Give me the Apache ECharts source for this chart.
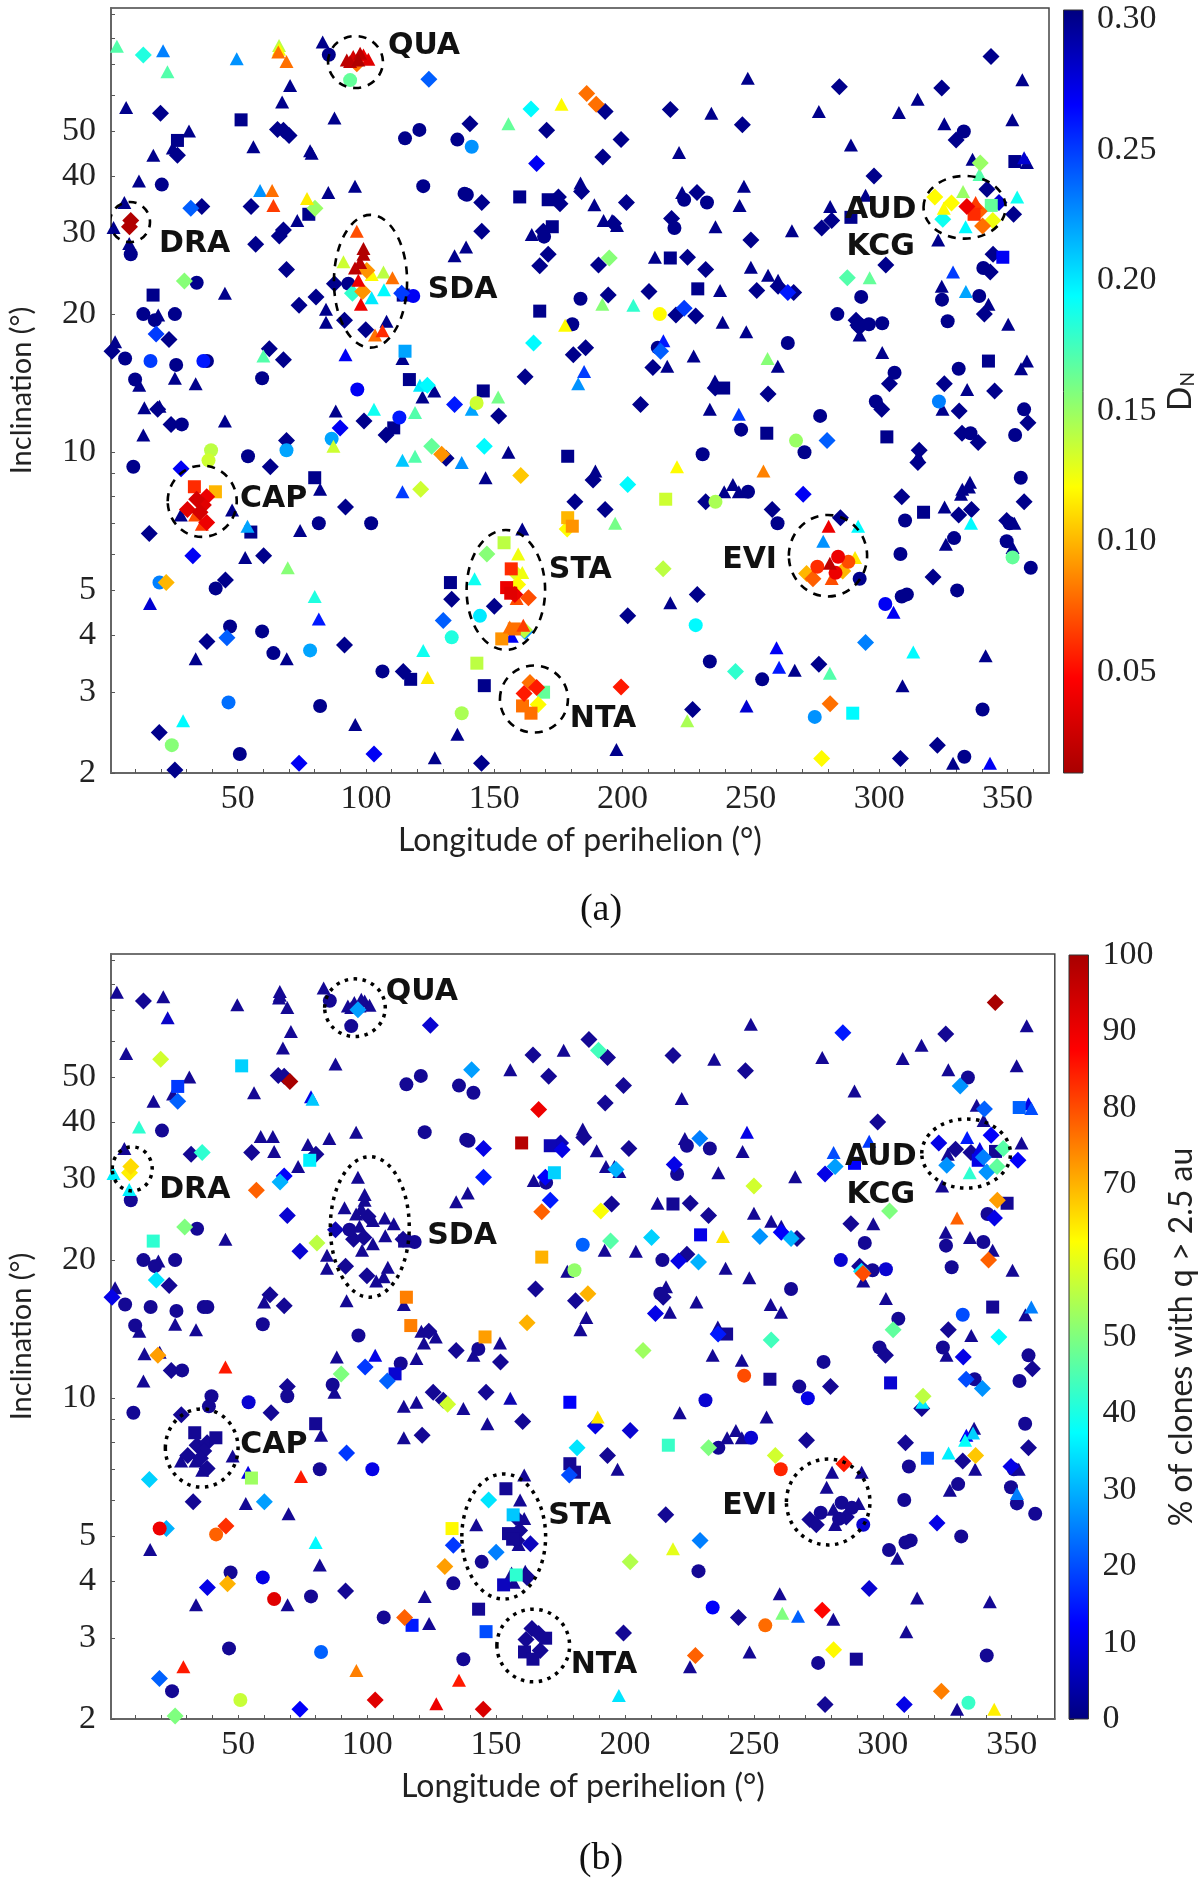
<!DOCTYPE html>
<html><head><meta charset="utf-8">
<style>html,body{margin:0;padding:0;background:#fff}#c{width:1200px;height:1880px}</style>
<script src="https://cdn.jsdelivr.net/npm/echarts@6/dist/echarts.min.js"></script>
</head><body><div id="c"></div>
<script>
// rows: [longitude, inclination, D_N (default .30), % clones (default 2)]
const triangles=[[2.9,76.7,.17],[20.9,75,.23],[22.6,67.5,.17,7],[49.6,72,.225],[66.1,77,.14],[66.1,75.5,.12],[65.8,74.5,.08],[69,71,.08],[70.4,63],[67.3,58],[83.1,78.3],[92.5,71.6,.02],[95,72.8,.03],[97,71.6,.015],[99,73.4,.04],[100.9,71.8,.035],[93.8,71,.02],[97.7,74,.02],[176.2,57.3,.12],[155.5,52,.165],[6.5,56.4],[31,50.1],[24.7,46],[17.1,44.4],[56.1,46.3],[87.7,53.5],[78.2,45.4,.3,10],[78.8,44.8,.3,32],[11.5,39,.3,42],[5.8,35],[1.6,30.9,.3,36],[7.7,28.5,.3,36],[58.7,37.2,.225],[63.4,37.2,.08],[63.9,34.5,.065],[77,35.7,.115],[73.2,32],[85.3,36.8],[95.7,38],[183.6,38.6],[164.6,29.8],[139,28],[134.5,26.8],[45,22.2],[84.4,20.5],[84.4,19.2],[96.4,30.3,.07],[99,27.8,.015],[99,27,.015],[97.7,25.9,.02],[95.7,25.2,.02],[91.2,26,.135],[102.2,24.4,.12],[106.8,24.7,.14],[110.3,24,.08],[97,23.7,.04],[107,22.6,.195],[102.2,21.7,.2],[98,21,.04],[108,19.3],[106.4,18.4,.06],[103.5,18,.08],[114.2,16],[92,16.3,.27],[19,19.9],[2.2,17.4],[60,16.2,.17],[11.6,14],[25.5,14.5],[33.6,14.1],[121,14,.2],[126.6,13.6],[122,13.2],[177.6,18.9,.12],[185,15,.25],[182.7,14.1,.225],[119.1,12.2,.17],[141.2,12.4,.22],[151.5,13.2,.16],
[355.8,64.8],[248.8,65.3],[315,58.8],[307.7,55],[276.5,55.3],[234.6,54.8],[222,45],[289,46.7],[325.4,52],[351.9,53],[356.5,43.8,.28,10],[357.6,42.8,.3,20],[336.4,43.5],[339.1,40.3,.17],[332.7,37,.15,15],[294.7,36.3,.3,18],[247.3,38,.3,10],[189,34.6],[223.2,36.8],[245.6,34.5],[280.9,34.3,.3,20],[266,30.4],[236.2,31],[192.6,32],[195.9,32],[197.8,31.2],[323,29],[325.2,34,.12],[337.6,35,.065,10],[353.8,36,.19],[333.7,31,.195,42],[212.6,26.6],[250,25.3],[256.7,24.3],[260.6,23.7],[296.3,24,.165],[328.8,24.7,.25,78],[324.4,23],[333.8,22.4,.22],[342.6,21],[350.3,19],[292.4,18],[301.2,16.5],[357.6,15.8,.3,25],[355.3,15.2],[334.3,13.7],[236,14.3],[248.2,18.3],[256.5,16,.155],[260.5,15.4],[239,19.2],[192.1,21,.155],[204.2,20.9,.18],[238,22.5,.3,65],[215.9,17.5,.26],[217.4,15.4],[227.7,16.2],
[234,12.4],[245.3,12.1,.25],[324.7,12.4],[221.2,9.3,.12],[254.9,9.1,.085],[189.4,9.1,.3,65],[197.1,7,.16],[239.6,8.2],[243,8.5],[245.3,8.2],[325.5,7.6,.3,36],[335.8,7,.195],[335.4,8.6],[332.4,8.3,.3,12],[335,8.4,.3,33],[331.9,8.1,.3,38],[352.7,7],[326,6.3],[352,6.2,.3,25],[280.3,6.9,.04],[291.8,6.9,.195],[278.2,6.4,.225],[280.8,5.73,.02],[290.6,5.9,.115],[281.5,5.31,.07],[305.6,4.48,.27],[218.6,4.7,.3,60],[313.3,3.67,.195],[341.5,3.6],[260,3.75,.27],[261,3.4,.26,50],[267.1,3.35,.3,22],[280.8,3.3,.17],[309.1,3.1],[225.2,2.6,.145],[248.3,2.8,.28],[197.6,2.25,.3,35],[328.8,2.1],[343.2,2.1,.27,64],[315.3,9.8,.3,35],
[13.6,12.5],[19.5,12.6],[13.2,10.9],[45,11.7,.3,85],[88.2,12.3],[103.1,12.4,.19,10],[87.3,10.3,.135],[119.1,9.8,.17],[114.2,9.6,.21],[137.3,9.5,.225],[155.5,10,.3,5],[146.6,8.8],[114.2,8.2,.25],[82.1,8.3],[160.9,6.8],[159.3,6,.125],[160.9,5.47,.125],[142.3,5.3,.19],[158.7,4.8,.07],[156,4.16,.08],[161.3,4.2,.065],[156.8,3.97,.27],[122.3,3.7,.19],[124,3.23,.115],[135.6,2.43,.3,85],[126.8,2.16,.3,90],[95.8,2.55,.3,75],[28.7,2.6,.195,85],[69.1,3.55],[33.6,3.55],[81.6,4.33,.26],[80,4.85,.185,37],[69.5,5.6,.155],[15.8,4.68,.28],[52.9,5.9],[74.3,6.75,.3,85],[53.8,6.9,.22,10],[27.8,7.3],[33.4,7.3,.07],[47.8,7.48],[36,6.97,.065]];
const diamonds=[[13.2,73.4,.185],[124.5,65,.24,8],[186,60.5,.08],[189.7,57.3,.08,44],[164.3,56,.195],[170.4,50.3],[140.5,52,.3,28],[166.5,42.6,.27,90],[19.9,54.8,.3,58],[26.5,44.4,.3,22],[65.5,50.5],[67.8,50.3],[70,49,.3,100],[8.3,32,.015,66],[7.8,31,.015,64],[80.1,34,.15],[31.7,34,.24],[36,34.3,.3,42],[55.2,34.3],[67.8,30.5,.3,12],[66.2,29.6,.3,30],[57,28.4,.3,78],[145.1,35,.3,10],[175,36,.3,5],[175.6,34.8,.3,10],[184,37],[169.1,30.3,.3,12],[171,27,.3,15],[167.7,25.5,.3,78],[145.1,30.3,.3,15],[69,25,.3,8],[29.2,23.6,.155,50],[73.9,20.9,.3,8],[80.5,21.8,.3,56],[100.3,24.9,.09],[87.7,23.3,.3,5],[94.7,22.2,.18],[98.7,22.4,.09],[113.9,22.2,.25],[91.6,19.4],[99.9,18.5],[18.2,18.1,.25,35],[23.2,17.6],[1,16.6,.3,10],[62.3,16.8],[67.8,15.9],[123.9,14,.195],[162,14.6,.3,70],[165.3,17.3,.195],[180.8,16.3],[185.6,16.9,.3,70],[96.4,70.2,.08,28],[134.5,12.7,.26],[151.7,12],
[343.6,72.8,.3,100],[284.5,62.6,.3,15],[324.4,62.2],[218.6,55.8],[246.7,51.7],[193.2,55.3],[199.4,48],[192.3,44],[330,47.9,.3,27],[339.4,42.7,.15,22],[342,37.4,.3,12],[298,40],[201.5,35],[229,36.8,.3,25],[281.5,32,.3,28],[277.6,30.8,.3,10],[219.1,32.3,.3,10],[196.5,31.5,.3,30],[250,29,.3,58],[344.4,27,.3,72],[321.7,36,.12,10],[328.2,34.9,.12],[334.2,34.3,.04],[339,33.5,.075,25],[346.7,35,.28,46],[352.4,33,.3,12],[324.8,32.2,.19,27],[340.3,31.1,.08,27],[344.3,32,.125,47],[225.3,26.6],[232.4,25],[190.6,25.6,.3,62],[194.8,26.5,.155],[260.6,23,.3,12],[264.4,22.3,.26,30],[266.7,22.3],[287.6,24,.17],[302.6,25.6,.3,50],[343.3,24.7,.3,10],[341,20,.3,78],[291,19.4],[291.7,18.9,.3,35],[292.3,18.7,.3,80],[304,14.1,.3,47],[325.4,14.1],[345,13.6,.3,37],[236.1,13.8,.3,15],[256.7,13.4,.3,44],[224,20.6,.25],[220.8,19.9,.3,10],[228.5,19.8,.3,30],[210.3,22.4,.3,33],[194.4,22,.3,46],[252.3,22.5,.3,27],[214.8,16.6,.24],[211.8,15.3,.3,10],
[207,12.7,.3,53],[301,12.4],[331.2,12.3,.3,10],[358,11.6],[332.3,11,.3,20],[338.6,10.5,.3,27],[279.7,10.6,.24],[315.6,10.1,.3,56],[315.1,9.5],[202,8.5,.195,8],[188.5,8.7,.3,10],[232.4,7.8,.3,50],[258.3,7.5,.3,58],[193.2,7.5],[270.4,8.1,.27],[308.8,8],[331,7.3],[336,7.5,.3,68],[356.5,7.8],[349.7,7.1,.3,10],[284.9,7.2,.3,85],[285.8,5.51,.1],[271.7,5.44,.1],[274.2,5.3,.075],[321,5.35,.3,10],[215.8,5.57,.14],[229.1,4.9,.3,25],[202,4.4,.3,55],[294.7,3.85,.23,8],[244,3.33,.18],[276.5,3.45,.3,87],[199.4,3.08,.055],[227.3,2.75,.3,78],[280.9,2.83,.08,63],[277.6,2.15,.12],[308.3,2.15,.3,10],[322.7,2.3,.3,75],
[18.8,12.4,.3,72],[24,11.5],[99.2,11.7,.3,18],[89.9,11.3,.27,50],[107.8,10.9,.3,22],[69,10.6],[27.9,9.2,.27],[62.7,9.3],[92,7.6,.3,18],[125.6,10.3,.165],[131.2,9.7,.3,58],[129.5,9.9,.09],[146.1,10.3,.195],[160.3,8.9,.105],[181.4,7.8,.3,35],[121.3,8.3,.135],[178.4,6.8,.12,20],[147.1,6,.155,35],[157.7,5.5,.13],[159.1,5.15,.12],[158,4.9,.04],[163.3,4.82,.07,6],[133.4,4.78,.3,18],[150,4.62,.3,25],[130.1,4.3,.24,72],[161.7,4.1,.14],[162,4.07,.225],[114.5,3.33,.3,78],[163.9,3.15,.08],[166.5,3.07,.055],[161.6,2.98,.055],[167.1,2.82,.12],[145,2.1,.3,93],[103.1,2.2,.27,92],[73.9,2.1,.27,12],[25.5,2.03,.3,50],[19.4,2.45,.3,22],[91.6,3.8],[45.8,3.94,.24,70],[38,3.87,.3,10],[22.1,5.2,.1,30],[45.2,5.27,.3,83],[60.1,5.95,.3,28],[15.5,6.65,.3,33],[32.5,5.95,.27],[34,7.9,.03],[37.9,8,.04],[36.6,7.67,.035],[30.4,7.5,.035],[35.3,7.4,.03],[37.9,7.03,.04]];
const circles=[[93.8,64.7,.165],[85.5,73.5],[120.8,50.4],[115.2,48.3],[135.6,48],[141.2,46.3,.225],[20.4,38.3],[122.3,38],[139.3,36.4],[138.4,36.6],[8.3,27],[34,23.4],[93.1,23.3],[118.4,21.9,.27],[13.2,20],[17.7,19.4],[25.5,20],[183.6,21.6,.3,22],[180.4,19,.3,52],[6.1,16],[16,15.8,.25],[26,15.5],[36.6,15.8,.26],[38,15.8],[59.5,14.5],[10,14.4],[96.6,13.7,.27],[169.4,29.5],
[333,50],[224,35.5],[232.9,35],[220.2,30.8],[340.6,25.2],[339,21.9],[324.5,21.5],[293,21.8],[326.7,19.3],[283.7,20,.3,8],[292.2,19],[296,19],[301.2,19.1,.3,8],[306,14.9],[331,15.2,.3,20],[264.4,17.3],[214.5,20,.12],[213.7,16.9],
[246.2,11.2,.3,80],[277,12],[298.7,12.9],[323.3,12.9,.23],[356.5,12.4],[353,10.9],[335.6,11],[267.6,10.6,.15],[270.9,10,.3,10],[231.2,9.9,.3,8],[236.2,7.8,.145],[248.9,8.2,.3,8],[260.4,7,.3,84],[310.1,7.1],[355.2,8.8],[350.8,7],[329.2,6.5],[308.3,6],[349.7,6.4],[352,5.9,.165],[359.1,5.6],[284,5.92,.04],[288,5.77,.07],[275.9,5.63,.06],[283,5.46,.04],[292.4,5.3,.3,8],[330.4,5],[310.8,4.9],[308.8,4.85],[302.4,4.67,.27],[228.5,4.2,.195],[234,3.5,.3,12],[254.4,3.2,.3,77],[274.9,2.65,.225],[340.3,2.75],[333.2,2.17,.3,43],
[28.2,11.5],[113,11.9,.26],[86.6,10.7,.22],[69,10.1,.22],[54,9.8,.3,8],[39.6,10.1,.14],[38.6,9.6,.135],[9.3,9.3],[81.6,7],[102,7,.3,10],[144.4,4.4,.2],[133.4,3.95,.185],[106.4,3.33],[143.1,12.8,.135],[137.3,2.7,.145],[82.1,2.8,.3,22],[50.8,2.2,.3,57],[24.3,2.3,.155],[46.4,2.85,.235],[78.2,3.7,.22],[63.9,3.65,.3,92],[59.5,4.07,.3,10],[47,4.17],[19.5,5.2,.23,90],[41.4,5.05,.3,78]];
const squares=[[51.3,53,.3,33],[26.5,47.8,.3,18],[77.7,33,.3,36],[159.9,36,.3,98],[171,35.5,.3,5],[172.6,31,.3,33],[17,22,.3,42],[114.5,22],[115.2,16.6,.22,75],[116.9,14.4,.3,75],[145.7,13.6,.3,72],[167.7,20.3,.3,70],
[352.9,43,.3,22],[343.7,34.5,.165],[337,33,.06,10],[348.2,26.6,.27],[218.6,26.5],[229.3,22.7,.3,10],[289,32.5,.3,12],[342.6,15.8],[239.4,13.8],
[256.2,11],[303,10.8,.3,8],[216.8,7.9,.135,43],[317.3,7.4,.3,20],[289.7,2.7,.195],
[110.8,11.3,.3,8],[80,8.8],[178.6,9.8,.3,12],[178.6,7.2,.1],[180.4,6.9,.09],[153.8,6.35,.14],[156.6,5.57,.06,32],[132.9,5.2,.3,63],[154.8,5.07,.04],[156.4,4.93,.035],[157.8,4.12,.08,42],[152.9,3.92,.09,6],[143.2,3.47,.14],[117.4,3.2,.3,15],[146.1,3.1,.3,20],[169.2,3,.165],[161,2.8,.08],[164.3,2.7,.08],[33.1,8.41,.06],[41.3,8.2,.1],[55.1,6.7,.3,53]];

const xTicks=[10,20,30,40,50,60,70,80,90,100,110,120,130,140,150,160,170,180,190,200,210,220,230,240,250,260,270,280,290,300,310,320,330,340,350,360];
const xLabels=[50,100,150,200,250,300,350];
const yTicks=[2,3,4,5,6,7,8,9,10,20,30,40,50,60,70,80,90];
const yLabels=[2,3,4,5,10,20,30,40,50];
const dnLabels=[0.05,0.10,0.15,0.20,0.25,0.30];
const pctLabels=[0,10,20,30,40,50,60,70,80,90,100];
const streamNames=['QUA','DRA','SDA','AUD','KCG','CAP','STA','NTA','EVI'];
// dashed ellipses: lon1, lon2, inc1, inc2
const ringsA=[[85.2,106.6,62.2,80.7],[0.2,15.8,28.7,35.1],[87.5,116,16.9,32.9],[317.3,349.3,29.2,40],[22.7,49.6,6.54,9.35],[139.2,169.8,3.71,6.77],[152.2,178.7,2.45,3.43],[264.8,295.3,4.85,7.3]];
const ringsB=[[83.5,107,61.4,82],[1.1,16.6,28.3,35.3],[85.7,116.3,16.6,33.6],[315.1,349.5,28.7,40.6],[21.7,49.9,6.4,9.48],[136.7,169.2,3.65,6.84],[150.3,178.5,2.41,3.47],[262.6,295,4.79,7.37]];
const namesA=[[122.6,76.6],[33.2,28.33],[137.6,22.6],[300.6,33.66],[300.6,27.94],[64,7.9],[183.5,5.53],[192.4,2.626],[249.5,5.81]];
const namesB=[[121.2,76.6],[33.1,28.33],[136.8,22.6],[299.2,33.56],[299.2,27.74],[63.8,7.9],[182.4,5.52],[191.8,2.616],[248.4,5.81]];

const JET=['#00007f','#0000ff','#007fff','#00ffff','#7fff7f','#ffff00','#ff7f00','#ff0000','#a80000'];
const SIZES={triangle:[14,13],diamond:[17,17],circle:[14,14],rect:[13,13]};
const all=[].concat(
  triangles.map(r=>[r[0],r[1],r[2]===undefined?.3:r[2],r[3]===undefined?2:r[3],'triangle']),
  diamonds.map(r=>[r[0],r[1],r[2]===undefined?.3:r[2],r[3]===undefined?2:r[3],'diamond']),
  circles.map(r=>[r[0],r[1],r[2]===undefined?.3:r[2],r[3]===undefined?2:r[3],'circle']),
  squares.map(r=>[r[0],r[1],r[2]===undefined?.3:r[2],r[3]===undefined?2:r[3],'rect']));
const dataA=all.slice().sort((p,q)=>q[2]-p[2]).map(r=>[r[0],r[1],r[2],r[4]]);
const dataB=all.slice().sort((p,q)=>p[3]-q[3]).map(r=>[r[0],r[1],r[3],r[4]]);

const TICKFONT='Liberation Sans Narrow', NAMEFONT='Lato', TXT='#222';
const lab={fontFamily:TICKFONT,fontSize:34,color:TXT};
function xAxis(gi,min,max){return {type:'value',gridIndex:gi,min,max,
  name:'Longitude of perihelion (°)',nameLocation:'middle',nameGap:52,nameTextStyle:{fontFamily:NAMEFONT,fontSize:32,color:TXT},
  splitLine:{show:false},axisLine:{onZero:false,lineStyle:{color:'#666',width:2}},
  axisTick:{inside:true,length:4,lineStyle:{color:'#555',width:1},customValues:xTicks},
  axisLabel:Object.assign({margin:9,customValues:xLabels,showMinLabel:true,showMaxLabel:true},lab)};}
function yAxis(gi){return {type:'log',logBase:10,gridIndex:gi,min:2,max:92.9,
  name:'Inclination (°)',nameLocation:'middle',nameGap:75,nameTextStyle:{fontFamily:NAMEFONT,fontSize:29,color:TXT},
  splitLine:{show:false},minorTick:{show:false},axisLine:{onZero:false,lineStyle:{color:'#666',width:2}},
  axisTick:{inside:true,length:4,lineStyle:{color:'#555',width:1},customValues:yTicks},
  axisLabel:Object.assign({margin:15,customValues:yLabels,formatter:v=>String(Math.round(v))},lab)};}
function scatter(gi,data){return {type:'scatter',xAxisIndex:gi,yAxisIndex:gi,data,clip:true,
  dimensions:['lon','inc','v','shape'],encode:{x:0,y:1},
  symbol:v=>v[3],symbolSize:v=>SIZES[v[3]],itemStyle:{opacity:1},z:2,animation:false};}
function rings(gi,data,dash){return {type:'custom',xAxisIndex:gi,yAxisIndex:gi,data,encode:{x:[0,1],y:[2,3]},z:4,clip:true,silent:true,animation:false,
  renderItem:(p,api)=>{const a=api.coord([api.value(0),api.value(2)]),b=api.coord([api.value(1),api.value(3)]);
    return {type:'ellipse',shape:{cx:(a[0]+b[0])/2,cy:(a[1]+b[1])/2,rx:Math.abs(b[0]-a[0])/2,ry:Math.abs(b[1]-a[1])/2},
      style:{fill:null,stroke:'#000',lineWidth:dash[2],lineDash:dash.slice(0,2)}};}};}
function names(gi,data){return {type:'custom',xAxisIndex:gi,yAxisIndex:gi,data,encode:{x:0,y:1},z:5,silent:true,animation:false,
  renderItem:(p,api)=>{const c=api.coord([api.value(0),api.value(1)]);
    return {type:'text',style:{text:streamNames[p.dataIndex],x:c[0],y:c[1],align:'center',verticalAlign:'middle',fontFamily:'DejaVu Sans',fontWeight:'bold',fontSize:30,fill:'#111'}};}};}
function bar(gi,lo,hi,navyTop){const n=JET.length-1;const stops=JET.map((c,i)=>({offset:i/n,color:navyTop?c:JET[n-i]}));
  return {type:'custom',xAxisIndex:gi,yAxisIndex:gi,data:[[0,1,lo,hi]],encode:{x:[0,1],y:[2,3]},silent:true,animation:false,
  renderItem:(p,api)=>{const a=api.coord([0,hi]),b=api.coord([1,lo]);
    return {type:'rect',shape:{x:a[0],y:a[1],width:b[0]-a[0],height:b[1]-a[1]},
      style:{fill:new echarts.graphic.LinearGradient(0,0,0,1,stops),stroke:'#333',lineWidth:1}};}};}
function barX(gi){return {type:'value',gridIndex:gi,min:0,max:1,show:false};}
function barY(gi,lo,hi,labels,fmt,name,nameRich,gap,fs){return {type:'value',gridIndex:gi,min:lo,max:hi,position:'right',
  name,nameLocation:'middle',nameRotate:90,nameGap:gap,nameTextStyle:{fontFamily:NAMEFONT,fontSize:fs,color:TXT,rich:nameRich},
  splitLine:{show:false},axisLine:{show:false},
  axisTick:{length:5,lineStyle:{color:'#333',width:1},customValues:labels},
  axisLabel:Object.assign({margin:14,customValues:labels,formatter:fmt},lab)};}

const chart=echarts.init(document.getElementById('c'),null,{renderer:'canvas'});
chart.setOption({animation:false,backgroundColor:'#fff',
  grid:[
    {left:111,top:8,width:938,height:765,show:true,borderColor:'#444',borderWidth:1.5,outerBoundsMode:'none'},
    {left:1063.5,top:10,width:19.5,height:763,outerBoundsMode:'none'},
    {left:111,top:954,width:943.8,height:765,show:true,borderColor:'#444',borderWidth:1.5,outerBoundsMode:'none'},
    {left:1069,top:955,width:19.5,height:764,outerBoundsMode:'none'}],
  xAxis:[xAxis(0,0.6,366.2),barX(1),xAxis(2,0.62,366.7),barX(3)],
  yAxis:[yAxis(0),
    barY(1,0.0112,0.3035,dnLabels,v=>Number(v).toFixed(2),'{d|D}{n|N}',{d:{fontFamily:NAMEFONT,fontSize:32,color:TXT},n:{fontFamily:NAMEFONT,fontSize:19,color:TXT,verticalAlign:'bottom',padding:[10,0,0,0]}},82,32),
    yAxis(2),
    barY(3,0,100,pctLabels,v=>String(Math.round(v)),'% of clones with q > 2.5 au',undefined,77,32)],
  visualMap:[
    {type:'continuous',show:false,seriesIndex:0,dimension:2,min:0.0112,max:0.3035,inRange:{color:JET.slice().reverse()}},
    {type:'continuous',show:false,seriesIndex:4,dimension:2,min:0,max:100,inRange:{color:['#180a80'].concat(JET.slice(1))}}],
  series:[scatter(0,dataA),rings(0,ringsA,[8,7,2.6]),names(0,namesA),bar(1,0.0112,0.3035,true),
          scatter(2,dataB),rings(2,ringsB,[3.5,5.5,3.5]),names(2,namesB),bar(3,0,100,false)],
  graphic:[
    {type:'text',style:{text:'(a)',x:601,y:910,align:'center',verticalAlign:'middle',fontFamily:'Liberation Serif',fontSize:38,fill:'#111'}},
    {type:'text',style:{text:'(b)',x:601,y:1859,align:'center',verticalAlign:'middle',fontFamily:'Liberation Serif',fontSize:38,fill:'#111'}}]
});
</script></body></html>
